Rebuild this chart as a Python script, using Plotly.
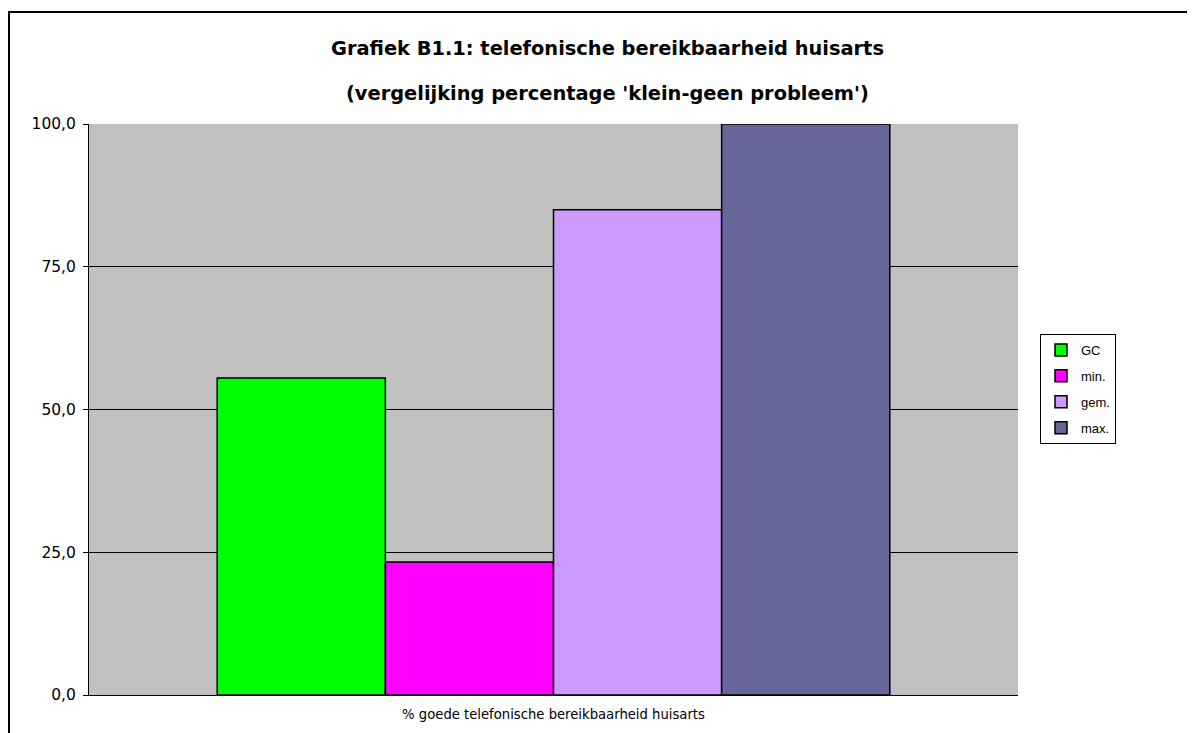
import plotly.graph_objects as go

category = ["% goede telefonische bereikbaarheid huisarts"]
series_names = ["GC", "min.", "gem.", "max."]
series_values = [55.5, 23.3, 85.0, 100.0]
series_colors = ["#00FF00", "#FF00FF", "#CC99FF", "#666699"]
y_ticks = [0, 25, 50, 75, 100]

# page is drawn with an 8px body margin; work in figure coordinates
OFF = 8
W, H = 1195 - OFF, 733 - OFF
L, T = 89 - OFF, 124 - OFF
PR, PB = 1018 - OFF, 695 - OFF
R, B = W - PR, H - PB
pw, ph = PR - L, PB - T

fig = go.Figure()
for name, val, col in zip(series_names, series_values, series_colors):
    fig.add_trace(go.Bar(
        x=category, y=[val], name=name, legendgroup=name,
        marker=dict(color=col, line=dict(color="black", width=1.5)),
    ))

def px_x(x):
    return (x - OFF - L) / pw

def px_y(y):
    return (PB - (y - OFF)) / ph

fig.update_layout(
    width=W, height=H,
    margin=dict(l=L, r=R, t=T, b=B),
    paper_bgcolor="white",
    plot_bgcolor="#C0C0C0",
    barmode="group",
    bargap=0.276,
    bargroupgap=0,
    separators=",.",
    showlegend=True,
    legend=dict(
        x=px_x(1040), y=px_y(334), xanchor="left", yanchor="top",
        bgcolor="white", bordercolor="black", borderwidth=1,
        font=dict(family="Liberation Sans, Arial", size=13, color="black"),
        itemwidth=30, tracegroupgap=6,
    ),
    xaxis=dict(
        showline=True, linecolor="black", linewidth=1,
        ticks="", showgrid=False,
        tickfont=dict(family="DejaVu Sans, Verdana", size=13.2, color="black"),
        ticklabelstandoff=7,
        mirror=False,
    ),
    yaxis=dict(
        range=[0, 100], tickvals=y_ticks, tickformat=".1f",
        showline=True, linecolor="black", linewidth=1,
        ticks="outside", ticklen=5, tickcolor="black",
        showgrid=True, gridcolor="black", gridwidth=1,
        tickfont=dict(family="DejaVu Sans, Verdana", size=15.5, color="black"),
        ticklabelstandoff=4,
        zeroline=False,
    ),
    shapes=[
        dict(type="rect", xref="paper", yref="paper",
             x0=px_x(9), x1=px_x(1215), y0=px_y(760), y1=px_y(12),
             line=dict(color="black", width=2), fillcolor="rgba(0,0,0,0)", layer="below"),
    ],
    annotations=[
        dict(text="<b>Grafiek B1.1: telefonische bereikbaarheid huisarts</b>",
             xref="paper", yref="paper", x=px_x(607), y=px_y(48),
             showarrow=False, xanchor="center", yanchor="middle",
             font=dict(family="DejaVu Sans, Verdana", size=19.4, color="black")),
        dict(text="<b>(vergelijking percentage 'klein-geen probleem')</b>",
             xref="paper", yref="paper", x=px_x(607), y=px_y(93),
             showarrow=False, xanchor="center", yanchor="middle",
             font=dict(family="DejaVu Sans, Verdana", size=19.4, color="black")),
    ],
)

fig.write_html("out.html")
